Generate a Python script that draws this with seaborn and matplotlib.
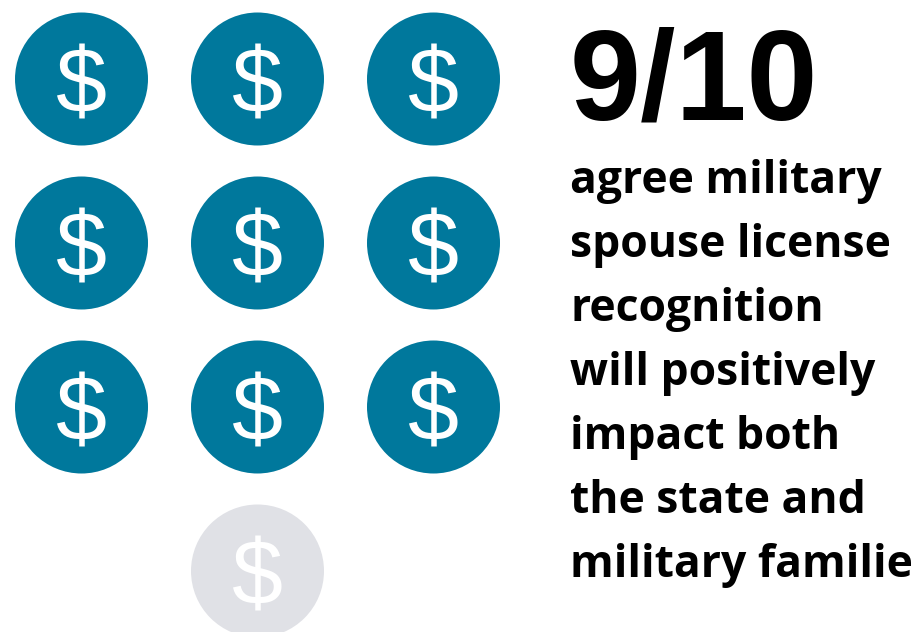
import matplotlib
matplotlib.use("Agg")
import matplotlib.pyplot as plt
import pandas as pd
import seaborn as sns

# grid of icons, filled means "agree"
columns = [0, 1, 2, 0, 1, 2, 0, 1, 2, 1]
rows = [0, 0, 0, 1, 1, 1, 2, 2, 2, 3]
agree = ["yes"] * 9 + ["no"]
headline = "9/10"
caption_lines = [
    "agree military",
    "spouse license",
    "recognition",
    "will positively",
    "impact both",
    "the state and",
    "military families",
]

W, H = 914, 632
BLUE = "#00789c"
GREY = "#e0e1e6"

df = pd.DataFrame({"col": columns, "row": rows, "agree": agree})

sns.set_theme(style="white")
plt.rcParams["font.family"] = ["Open Sans", "DejaVu Sans"]

fig = plt.figure(figsize=(W / 100, H / 100), dpi=100)
ax = fig.add_axes([0, 0, 1, 1])

# data units: one unit between columns is 176 px, between rows 164 px
px_x = 1 / 176
px_y = 1 / 164
ax.set_xlim(-81.5 * px_x, (W - 81.5) * px_x)
ax.set_ylim((H - 79) * px_y, -79 * px_y)
ax.axis("off")

# circle diameter is 133 px = 95.8 pt at 100 dpi -> area in pt^2
sns.scatterplot(
    data=df, x="col", y="row", hue="agree",
    palette={"yes": BLUE, "no": GREY},
    s=(133 * 0.72) ** 2, linewidth=0, legend=False, ax=ax, zorder=1,
)
ax.set_xlabel("")
ax.set_ylabel("")

# dollar sign on each circle
for c, r in zip(columns, rows):
    ax.text(c, r, "$", color="white", fontsize=66, family="Liberation Sans",
            ha="center", va="center_baseline", zorder=2)

fig.text(570 / W, 1 - 120 / H, headline, color="black", fontsize=92,
         fontweight="bold", family="Liberation Sans", va="baseline", ha="left")

for i, line in enumerate(caption_lines):
    y = 193 + i * 64
    fig.text(570 / W, 1 - y / H, line, color="black", fontsize=32,
             fontweight="bold", va="baseline", ha="left")

fig.savefig("out.png", dpi=100)
